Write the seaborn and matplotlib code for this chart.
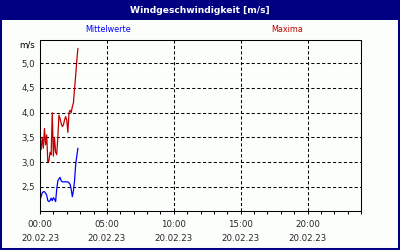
import numpy as np
import pandas as pd
import matplotlib
matplotlib.use("Agg")
import matplotlib.pyplot as plt
import matplotlib.dates as mdates
from matplotlib.ticker import FixedLocator
from matplotlib.patches import Rectangle
import seaborn as sns

# ---- data ----
title = "Windgeschwindigkeit [m/s]"
series_names = ["Mittelwerte", "Maxima"]
start = "2023-02-20 00:00"
minutes = [0, 5, 10, 15, 20, 25, 30, 35, 40, 45, 50, 55, 60, 65, 70, 75, 80, 85,
           90, 95, 100, 105, 110, 115, 120, 125, 130, 135, 140, 145, 150, 155,
           160, 165, 170]
mittel = [2.23, 2.30, 2.38, 2.40, 2.40, 2.37, 2.33, 2.22, 2.20, 2.22, 2.27, 2.22,
          2.28, 2.25, 2.20, 2.45, 2.62, 2.66, 2.69, 2.62, 2.60, 2.60, 2.60, 2.60,
          2.60, 2.60, 2.58, 2.55, 2.45, 2.30, 2.42, 2.62, 2.95, 3.12, 3.28]
maxima = [3.40, 3.25, 3.50, 3.28, 3.68, 3.35, 3.55, 3.00, 3.02, 3.20, 3.15, 4.00,
          3.12, 3.50, 3.20, 3.15, 3.50, 3.95, 3.88, 3.78, 3.72, 3.75, 3.85, 3.92,
          3.85, 3.60, 4.00, 4.05, 4.00, 4.12, 4.20, 4.48, 4.75, 5.05, 5.30]
y_ticks = [2.5, 3.0, 3.5, 4.0, 4.5, 5.0]
y_tick_labels = ["2,5", "3,0", "3,5", "4,0", "4,5", "5,0"]
x_tick_hours = [0, 5, 10, 15, 20]
y_unit = "m/s"

NAVY = "#000080"
BLUE = "#0000FF"
RED = "#C00000"
BG = "#FCFEFC"

sns.set_style("white")
plt.rcParams["font.family"] = ["DejaVu Sans"]

t0 = pd.Timestamp(start)
times = [t0 + pd.Timedelta(minutes=m) for m in minutes]
df = pd.DataFrame({"time": times, "Mittelwerte": mittel, "Maxima": maxima})

fig = plt.figure(figsize=(4, 2.5), dpi=100, facecolor=BG)
ax = fig.add_axes([40 / 400, 1 - 210.5 / 250, 321 / 400, 170 / 250])
ax.set_facecolor(BG)

sns.lineplot(data=df, x="time", y="Mittelwerte", color=BLUE, lw=0.9, ax=ax)
sns.lineplot(data=df, x="time", y="Maxima", color=RED, lw=0.9, ax=ax)

ax.set_xlim(t0, t0 + pd.Timedelta(hours=24))
ax.set_ylim(2.02, 5.46)
ax.set_xlabel("")
ax.set_ylabel("")

ax.yaxis.set_major_locator(FixedLocator(y_ticks))
ax.set_yticklabels(y_tick_labels)
ax.xaxis.set_major_locator(FixedLocator(
    [mdates.date2num(t0 + pd.Timedelta(hours=h)) for h in x_tick_hours]))
ax.xaxis.set_minor_locator(mdates.HourLocator())
ax.xaxis.set_major_formatter(mdates.DateFormatter("%H:%M\n%d.%m.%y"))

ax.grid(True, which="major", color="black", linestyle=(0, (3, 2.2)), lw=0.75)
ax.tick_params(axis="x", which="both", direction="out", length=2.5, width=0.75,
               color="black", labelsize=6.2, pad=4.2, bottom=True)
ax.tick_params(axis="y", length=0, labelsize=6.2, pad=3.6)
for s in ax.spines.values():
    s.set_visible(True)
    s.set_color("black")
    s.set_linewidth(0.75)

# title bar and frame
fig.patches.append(Rectangle((0, 1 - 20 / 250), 1, 20 / 250, transform=fig.transFigure,
                             facecolor=NAVY, edgecolor="none", zorder=0))
fig.patches.append(Rectangle((0, 0), 1, 1, transform=fig.transFigure,
                             facecolor="none", edgecolor=NAVY, lw=2.9, zorder=5))
fig.text(0.5, 1 - 10.5 / 250, title, color="white", ha="center", va="center",
         fontsize=6.6, fontweight="bold")
fig.text(108 / 400, 1 - 30 / 250, series_names[0], color=BLUE, ha="center",
         va="center", fontsize=5.8)
fig.text(287 / 400, 1 - 30 / 250, series_names[1], color=RED, ha="center",
         va="center", fontsize=5.8)
fig.text(35 / 400, 1 - 45 / 250, y_unit, color="black", ha="right", va="center",
         fontsize=6.2)

fig.canvas.draw()
for lab in ax.get_xticklabels():
    lab.set_linespacing(1.75)

fig.savefig("out.png", dpi=100, facecolor=BG)
